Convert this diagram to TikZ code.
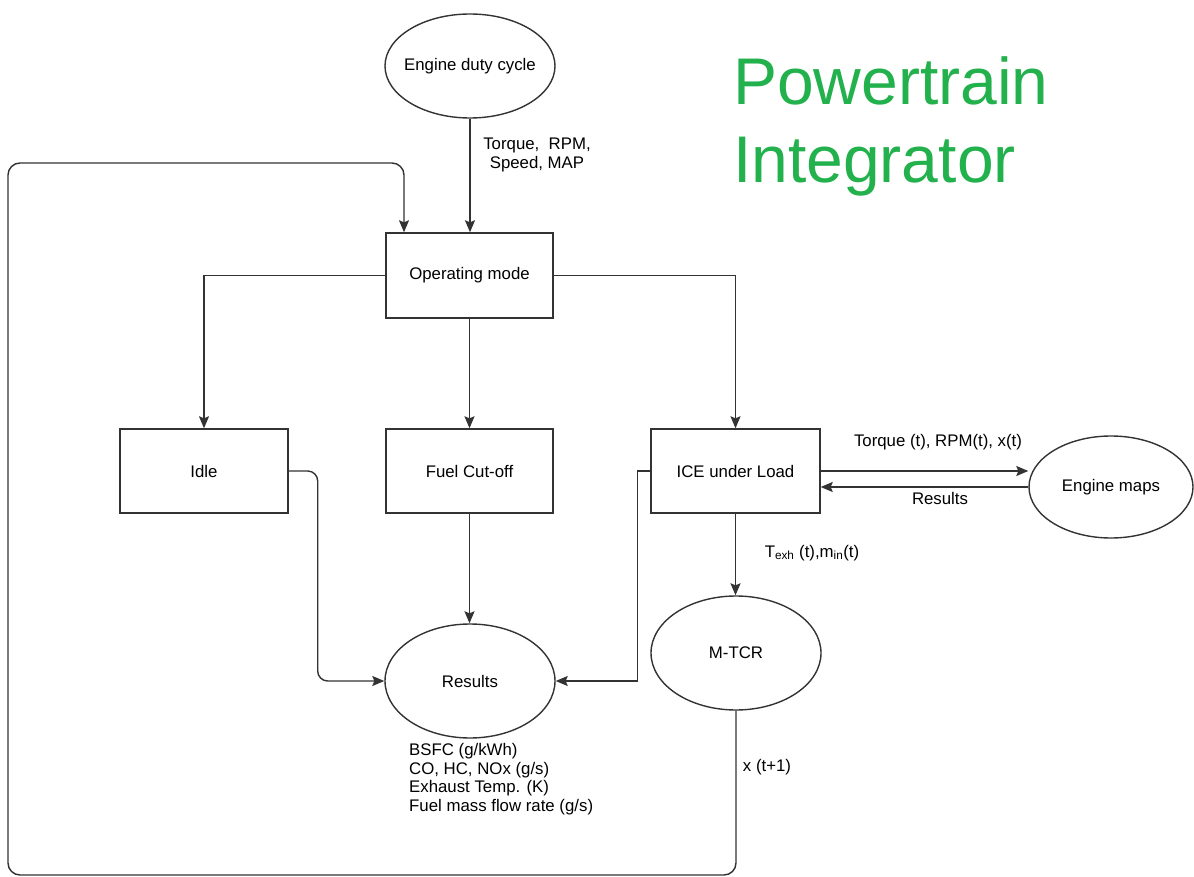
\documentclass[tikz,border=0pt]{standalone}
\usepackage{fontspec}
\setmainfont{Liberation Sans}
\usetikzlibrary{shapes.geometric,arrows.meta,calc}
\definecolor{ln}{HTML}{333333}
\definecolor{ptgreen}{HTML}{22B14C}
\tikzset{
  base/.style={draw=ln, line width=1.4pt, font=\fontsize{16.8}{18.7}\selectfont, inner sep=0pt, text=black},
  boxnode/.style={base, rectangle, minimum width=167pt, minimum height=84pt},
  ellnode/.style={base, ellipse, minimum width=170pt, minimum height=114pt},
  arr/.style={draw=ln, line width=1.4pt, -{Stealth[length=12pt,width=10pt,inset=2pt]}},
  lbl/.style={font=\fontsize{16.8}{19}\selectfont, inner sep=0pt, text=black},
}
\begin{document}
\begin{tikzpicture}[x=1pt,y=1pt]
\useasboundingbox[fill=white] (0,0) rectangle (1194,-877);

\node[ellnode, minimum height=104pt, label={[lbl]center:Engine duty cycle}] (edc) at (470,-66) {};
\node[boxnode, minimum height=85pt] (op) at (469.5,-275.5) {Operating mode};
\node[boxnode, minimum width=168pt] (idle) at (204,-471) {Idle};
\node[boxnode] (fuel) at (469.5,-471) {Fuel Cut-off};
\node[boxnode, minimum width=169pt] (ice) at (735.5,-471) {ICE under Load};
\node[ellnode, minimum width=164pt, minimum height=102pt] (maps) at (1111,-487) {Engine maps};
\node[ellnode] (mtcr) at (736,-653) {M-TCR};
\node[ellnode] (res) at (470,-681) {Results};

\node[lbl, align=center] (l1) at (537,-155) {Torque,\ \ RPM,\\Speed, MAP};
\node[lbl] (l2) at (938,-442) {Torque (t), RPM(t), x(t)};
\node[lbl] (l3) at (940,-498) {Results};
\node[lbl] (l4) at (812,-553) {T\textsubscript{exh} (t),m\textsubscript{in}(t)};
\node[lbl] (l5) at (767,-767) {x (t+1)};
\node[lbl, align=left, anchor=north west, font=\fontsize{16.8}{18.7}\selectfont] (l6) at (409,-743) {BSFC (g/kWh)\\CO, HC, NOx (g/s)\\Exhaust Temp. (K)\\Fuel mass flow rate (g/s)};

\node[font=\fontsize{66}{78}\selectfont, text=ptgreen, inner sep=0pt, anchor=base west] (t1) at (733,-105) {Powertrain};
\node[font=\fontsize{66}{78}\selectfont, text=ptgreen, inner sep=0pt, anchor=base west] (t2) at (733,-183) {Integrator};

\draw[arr] (edc.south) -- (edc.south |- op.north);
\draw[arr] (op.west) -| (idle.north);
\draw[arr] (op.south) -- (op.south |- fuel.north);
\draw[arr] (op.east) -| (ice.north);
\draw[arr] (fuel.south) -- (fuel.south |- res.north);
\draw[arr, rounded corners=10pt] (idle.east) -- ++(29,0) |- (res.west);
\draw[arr] (ice.west) -- ++(-13,0) |- (res.east);
\draw[arr] (ice.east) -- (ice.east -| maps.west);
\draw[arr] (maps.west) -- (maps.west -| ice.east);
\draw[arr] (ice.south) -- (ice.south |- mtcr.north);
\coordinate (fb) at (404,-163);
\draw[arr, rounded corners=12pt] (mtcr.south) |- (8,-875) |- (fb) -- (fb |- op.north);
\end{tikzpicture}
\end{document}
